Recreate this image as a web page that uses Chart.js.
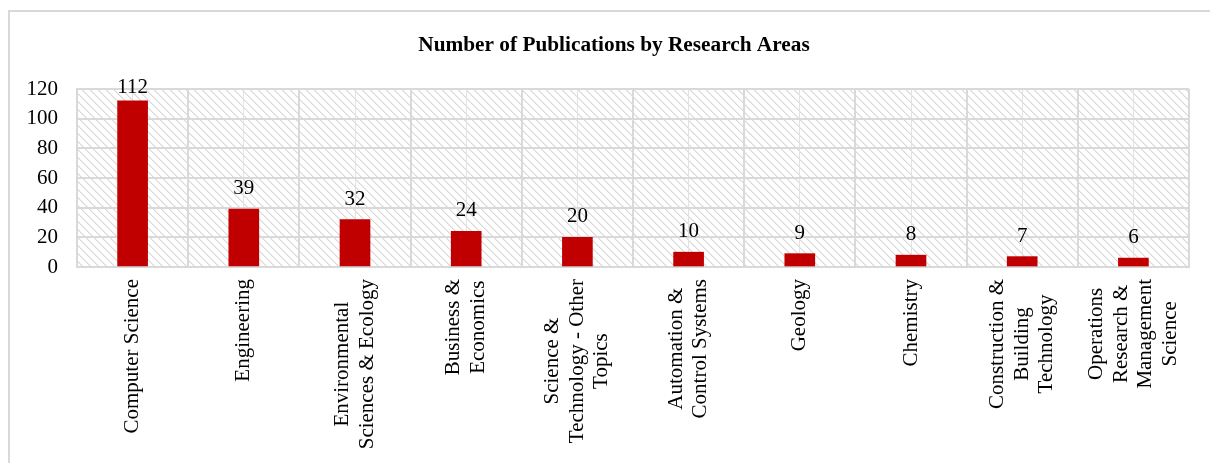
<!DOCTYPE html>
<html>
<head>
<meta charset="utf-8">
<title>Number of Publications by Research Areas</title>
<script src="https://cdn.jsdelivr.net/npm/chart.js@4.4.1/dist/chart.umd.min.js"></script>
<style>
  html, body { margin: 0; padding: 0; background: #fff; overflow: hidden; }
  .moldura {
    position: absolute; left: 8px; top: 10px;
    width: 1400px; height: 700px;
    border: 2px solid #d9d9d9; box-sizing: border-box;
  }
  .caixa { position: relative; width: 1210px; height: 463px; }
</style>
</head>
<body>
<div class="moldura"></div>
<div class="caixa">
  <canvas id="graficoAreas" width="1210" height="463"></canvas>
</div>
<script>
// Research areas (one entry per bar, split into the lines shown under the axis)
const areas = [
  ['Computer Science'],
  ['Engineering'],
  ['Environmental', 'Sciences & Ecology'],
  ['Business &', 'Economics'],
  ['Science &', 'Technology - Other', 'Topics'],
  ['Automation &', 'Control Systems'],
  ['Geology'],
  ['Chemistry'],
  ['Construction &', 'Building', 'Technology'],
  ['Operations', 'Research &', 'Management', 'Science']
];

// Number of publications for each area
const publications = [112, 39, 32, 24, 20, 10, 9, 8, 7, 6];

// Y axis ticks
const yTicks = [0, 20, 40, 60, 80, 100, 120];

const TITULO = 'Number of Publications by Research Areas';
const FONTE = '"Liberation Serif", "Times New Roman", serif';
const VERMELHO = '#c00000';
const CINZA = '#d9d9d9';

// Diagonal hatch used behind the plot area
function criarHachura(ctx) {
  const tile = document.createElement('canvas');
  tile.width = 8;
  tile.height = 8;
  const t = tile.getContext('2d');
  t.fillStyle = '#fff';
  t.fillRect(0, 0, 8, 8);
  for (let y = 0; y < 8; y++) {
    for (let x = 0; x < 8; x++) {
      const d = (x - y + 16) % 8;
      if (d === 0 || d === 1) {
        t.fillStyle = ((x + y) % 2 === 0) ? '#d8d8d8' : '#ebebeb';
        t.fillRect(x, y, 1, 1);
      }
    }
  }
  return ctx.createPattern(tile, 'repeat');
}

const fundoHachurado = {
  id: 'fundoHachurado',
  beforeDraw(chart) {
    const { ctx, chartArea: a } = chart;
    ctx.save();
    ctx.fillStyle = criarHachura(ctx);
    ctx.fillRect(a.left, a.top, a.right - a.left, a.bottom - a.top);
    ctx.restore();
  }
};

// Title, centred over the whole frame rather than the padded layout box
const tituloCentral = {
  id: 'tituloCentral',
  afterDraw(chart) {
    const { ctx } = chart;
    ctx.save();
    ctx.font = 'bold 21.3px ' + FONTE;
    ctx.fillStyle = '#000';
    ctx.textAlign = 'center';
    ctx.textBaseline = 'middle';
    ctx.fillText(TITULO, 614, 45);
    ctx.restore();
  }
};

// Value written above each bar
const rotulosValores = {
  id: 'rotulosValores',
  afterDatasetsDraw(chart) {
    const { ctx, chartArea } = chart;
    const meta = chart.getDatasetMeta(0);
    ctx.save();
    ctx.font = '21px ' + FONTE;
    ctx.fillStyle = '#000';
    ctx.textAlign = 'center';
    ctx.textBaseline = 'alphabetic';
    meta.data.forEach((bar, i) => {
      const y = Math.max(bar.y - 15, chartArea.top + 4);
      ctx.fillText(String(chart.data.datasets[0].data[i]), bar.x, y);
    });
    ctx.restore();
  }
};

// Category names, rotated, with each line centred on the block
const rotulosCategorias = {
  id: 'rotulosCategorias',
  afterDraw(chart) {
    const { ctx, chartArea } = chart;
    const escala = chart.scales.x;
    const alturaLinha = 24.5;
    ctx.save();
    ctx.font = '21px ' + FONTE;
    ctx.fillStyle = '#000';
    ctx.textAlign = 'center';
    ctx.textBaseline = 'middle';
    chart.data.labels.forEach((linhas, i) => {
      const cx = escala.getPixelForValue(i);
      const larguraMax = Math.max(...linhas.map(l => ctx.measureText(l).width));
      ctx.save();
      ctx.translate(cx, chartArea.bottom + 12);
      ctx.rotate(-Math.PI / 2);
      linhas.forEach((linha, j) => {
        const dy = (j - (linhas.length - 1) / 2) * alturaLinha;
        ctx.fillText(linha, -larguraMax / 2, dy);
      });
      ctx.restore();
    });
    ctx.restore();
  }
};

const ctx = document.getElementById('graficoAreas').getContext('2d');
new Chart(ctx, {
  type: 'bar',
  data: {
    labels: areas,
    datasets: [{
      label: 'Publications',
      data: publications,
      backgroundColor: VERMELHO,
      borderWidth: 0,
      barThickness: 30
    }]
  },
  options: {
    responsive: false,
    animation: false,
    devicePixelRatio: 1,
    layout: { padding: { left: 0, right: 21, top: 89, bottom: 0 } },
    plugins: {
      legend: { display: false },
      tooltip: { enabled: false },
      title: { display: false }
    },
    scales: {
      x: {
        type: 'category',
        offset: true,
        ticks: { display: false },
        grid: { offset: true, color: CINZA, lineWidth: 2, drawTicks: false },
        border: { display: true, color: CINZA, width: 2 },
        afterFit(scale) { scale.height = 196; }
      },
      // extra lines through the middle of each category
      xc: {
        type: 'category',
        position: 'top',
        offset: true,
        ticks: { display: false },
        grid: { offset: false, color: '#e2e2e2', lineWidth: 1, drawTicks: false },
        border: { display: false },
        afterFit(scale) { scale.height = 0; }
      },
      y: {
        min: 0,
        max: 120,
        afterBuildTicks(scale) { scale.ticks = yTicks.map(v => ({ value: v })); },
        ticks: {
          color: '#000',
          padding: 19,
          font: { family: FONTE, size: 21 }
        },
        grid: { color: CINZA, lineWidth: 2, drawTicks: false },
        border: { display: true, color: CINZA, width: 2 },
        afterFit(scale) { scale.width = 77; }
      }
    }
  },
  plugins: [fundoHachurado, rotulosValores, rotulosCategorias, tituloCentral]
});
</script>
</body>
</html>
